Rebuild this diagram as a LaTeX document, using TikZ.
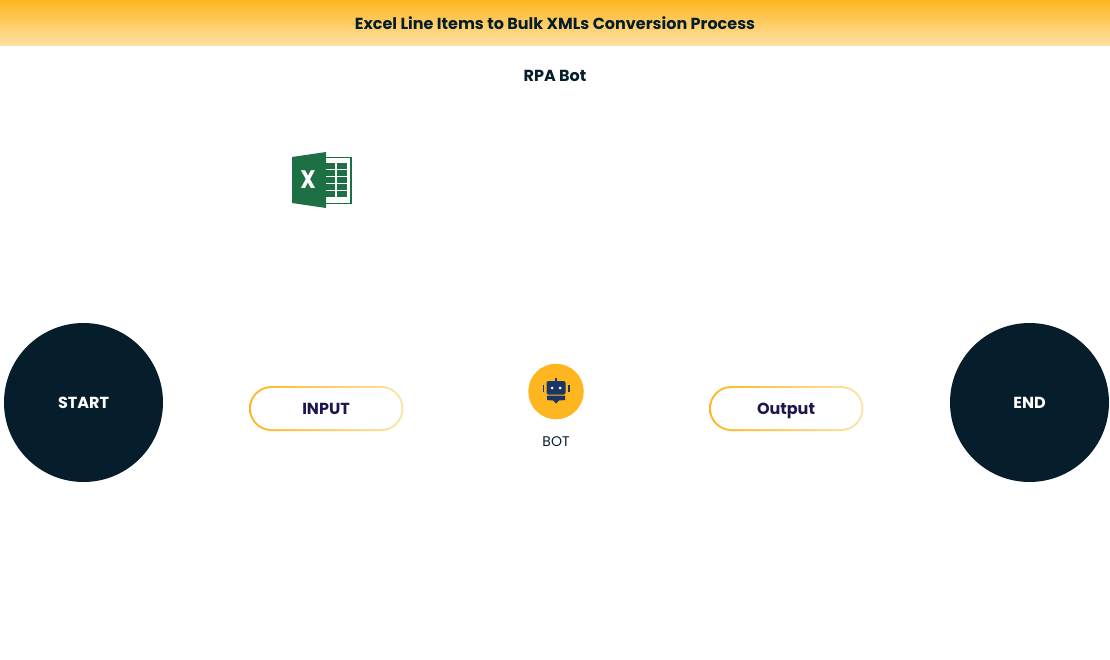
\documentclass[tikz,border=0pt]{standalone}
\usepackage{fontspec}
\setmainfont{Poppins}
\definecolor{navy}{HTML}{061E2B}
\definecolor{ink}{HTML}{1E1650}
\definecolor{amber}{HTML}{FDB61F}
\definecolor{paleamber}{HTML}{FEE2A8}
\definecolor{xlgreen}{HTML}{1D7044}
\definecolor{botblue}{HTML}{1B3564}
\tikzset{
	endpoint/.style={circle, fill=navy, text=white, minimum size=159*.75pt, inner sep=0pt, text height=8.5pt, text depth=0pt, font=\fontsize{12}{14}\selectfont\bfseries},
	pilltext/.style={text=ink, text height=8.5pt, text depth=0pt, font=\fontsize{12}{14}\selectfont\bfseries},
}
\newcommand{\pillbox}[3]{% x, y, name
	\shade[rounded corners=16.875pt, left color=amber, right color=paleamber] (#1,#2) rectangle (#1+154.5,#2+45);
	\fill[white, rounded corners=15.375pt] (#1+2,#2+2) rectangle (#1+152.5,#2+43);
	\node[pilltext] (#3) at (#1+77,#2+22.5)
}

\begin{document}
\begin{tikzpicture}[x=.75pt, y=-.75pt]
	\useasboundingbox (0,0) rectangle (1110,660);

	% header band
	\shade[top color=amber, bottom color=paleamber] (0,0) rectangle (1110,46);
	\node[text=navy, font=\fontsize{12}{14}\selectfont\bfseries] (title) at (555,23.5) {Excel Line Items to Bulk XMLs Conversion Process};
	\node[text=navy, font=\fontsize{12}{14}\selectfont\bfseries] (lane) at (555,75.5) {RPA Bot};

	% excel icon
	\draw[xlgreen, fill=white, line width=1.2pt] (326,157.5) -- (351,157.5) -- (351,203.5) -- (326,203.5);
	\foreach \y in {163,170,177,184,191}
	{
		\fill[xlgreen] (326,\y) rectangle (335,\y+5.6);
		\fill[xlgreen] (336.5,\y) rectangle (347,\y+5.6);
	}
	\fill[xlgreen] (292,157) -- (326,152) -- (326,208) -- (292,203) -- cycle;
	\node[text=white, xscale=.85, font=\fontsize{19}{20}\selectfont\bfseries] (xlmark) at (308,180) {X};

	% start and end
	\node[endpoint] (start) at (83.5,402.5) {START};
	\node[endpoint] (end) at (1029.5,402.5) {END};

	% input and output
	\pillbox{249}{386}{input} {INPUT};
	\pillbox{709}{386}{output} {Output};

	% bot icon
	\fill[amber] (556,391.5) circle (27.75);
	\fill[botblue, rounded corners=1.5pt] (546.5,381) rectangle (565.5,394.5);
	\fill[botblue] (547,395.5) -- (565,395.5) -- (565,400) -- (559,400.5) -- (556,403.5) -- (553,400.5) -- (547,400) -- cycle;
	\fill[botblue] (555.3,378) rectangle (556.7,381);
	\fill[botblue] (542.5,385) rectangle (544,392);
	\fill[botblue] (568,385) rectangle (569.5,392);
	\foreach \x in {552,560}
	{
		\fill[white] (\x,388) circle (1.5);
	}
	\node[text=navy, font=\fontsize{10.5}{12}\selectfont] (bot) at (556,441.5) {BOT};
\end{tikzpicture}
\end{document}
